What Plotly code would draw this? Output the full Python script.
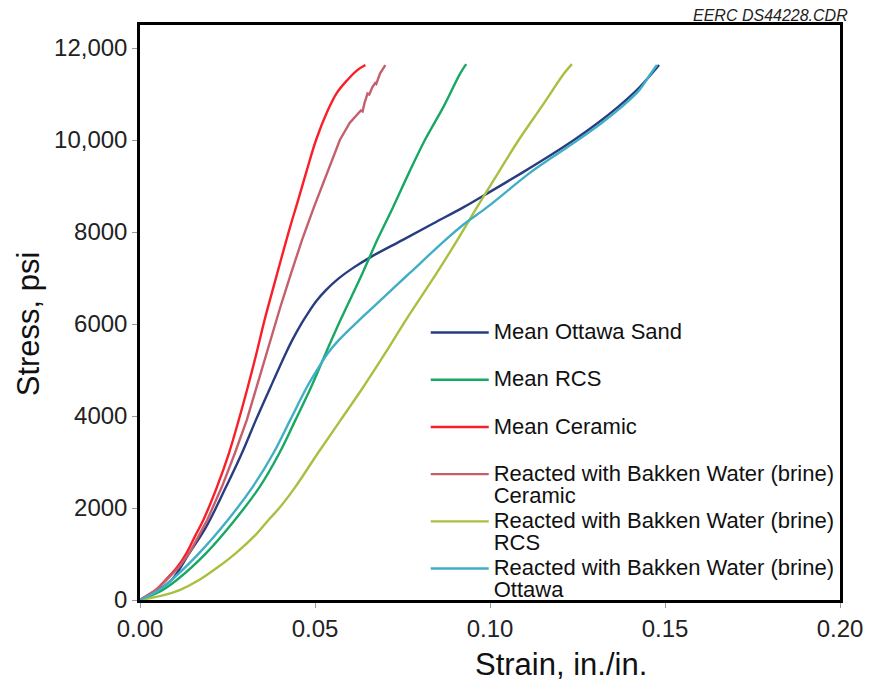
import plotly.graph_objects as go

# ---------------- data ----------------
strain_ottawa = [0, 0.0051, 0.0090, 0.0141, 0.0189, 0.0246, 0.0291, 0.0331, 0.0373, 0.0417, 0.0435,
                 0.0462, 0.0482, 0.0504, 0.0532, 0.0566, 0.0609, 0.0660, 0.0751, 0.0839, 0.0925,
                 0.0995, 0.1090, 0.1167, 0.1240, 0.1308, 0.1366, 0.1420, 0.1463, 0.1483]
stress_ottawa = [0, 217, 435, 1020, 1590, 2460, 3190, 3910, 4630, 5370, 5650,
                 6020, 6260, 6500, 6740, 6980, 7220, 7460, 7830, 8190, 8540,
                 8850, 9280, 9640, 10000, 10370, 10720, 11090, 11450, 11630]

strain_rcs = [0, 0.0056, 0.0105, 0.0189, 0.0271, 0.0342, 0.0398, 0.0444, 0.0489, 0.0531, 0.0573,
              0.0636, 0.0678, 0.0723, 0.0768, 0.0814, 0.0867, 0.0915, 0.0932]
stress_rcs = [0, 180, 435, 1020, 1740, 2460, 3190, 3910, 4630, 5370, 6090,
              7110, 7830, 8540, 9280, 10000, 10720, 11450, 11650]

strain_ceramic = [0, 0.0045, 0.0073, 0.0105, 0.0133, 0.0158, 0.0181, 0.0220, 0.0254, 0.0282, 0.0308,
                  0.0333, 0.0356, 0.0387, 0.0424, 0.0452, 0.0477, 0.0503, 0.0537, 0.0562, 0.0592,
                  0.0621, 0.0644]
stress_ceramic = [0, 217, 435, 700, 1020, 1400, 1740, 2460, 3190, 3910, 4630,
                  5370, 6090, 6960, 7980, 8700, 9350, 10000, 10650, 11020, 11300,
                  11520, 11630]

strain_brine_ceramic = [0, 0.0045, 0.0076, 0.0110, 0.0141, 0.0192, 0.0234, 0.0271, 0.0305, 0.0333,
                        0.0362, 0.0390, 0.0401, 0.0432, 0.0463, 0.0497, 0.0534, 0.0571, 0.0599,
                        0.0619, 0.0631, 0.0636, 0.0641, 0.0650, 0.0655, 0.0664, 0.0672, 0.0675,
                        0.0686, 0.0701]
stress_brine_ceramic = [0, 217, 435, 700, 1020, 1740, 2460, 3190, 3910, 4630,
                        5370, 6090, 6370, 7110, 7830, 8540, 9280, 10000, 10370,
                        10540, 10640, 10620, 10790, 11010, 10990, 11150, 11240, 11220,
                        11450, 11630]

strain_brine_rcs = [0, 0.0065, 0.0113, 0.0169, 0.0220, 0.0274, 0.0328, 0.0367, 0.0398, 0.0444,
                    0.0508, 0.0573, 0.0638, 0.0701, 0.0760, 0.0848, 0.0907, 0.0963, 0.1023,
                    0.1082, 0.1147, 0.1212, 0.1234]
stress_brine_rcs = [0, 100, 217, 435, 700, 1020, 1400, 1740, 2000, 2460,
                    3190, 3910, 4630, 5370, 6090, 7110, 7830, 8540, 9280,
                    10000, 10720, 11450, 11650]

strain_brine_ottawa = [0, 0.0051, 0.0090, 0.0169, 0.0251, 0.0322, 0.0381, 0.0429, 0.0477, 0.0506,
                       0.0537, 0.0568, 0.0627, 0.0667, 0.0734, 0.0771, 0.0873, 0.0929, 0.0992,
                       0.1113, 0.1181, 0.1251, 0.1319, 0.1376, 0.1427, 0.1460, 0.1477]
stress_brine_ottawa = [0, 200, 435, 1020, 1740, 2460, 3190, 3910, 4630, 5000,
                       5370, 5650, 6090, 6370, 6850, 7110, 7830, 8190, 8540,
                       9280, 9640, 10000, 10370, 10720, 11090, 11450, 11630]

series_names = [
    ["Mean Ottawa Sand"],
    ["Mean RCS"],
    ["Mean Ceramic"],
    ["Reacted with Bakken Water (brine)", "Ceramic"],
    ["Reacted with Bakken Water (brine)", "RCS"],
    ["Reacted with Bakken Water (brine)", "Ottawa"],
]
series_colors = ["#283c80", "#18a863", "#fa1e28", "#c4606c", "#a8c040", "#40aec6"]

x_tick_vals = [0, 0.05, 0.10, 0.15, 0.20]
x_tick_text = ["0.00", "0.05", "0.10", "0.15", "0.20"]
y_tick_vals = [0, 2000, 4000, 6000, 8000, 10000, 12000]
y_tick_text = ["0", "2000", "4000", "6000", "8000", "10,000", "12,000"]

# ---------------- layout geometry ----------------
W, H = 875, 685
ML, MR, MT, MB = 140, 27, 25, 85
PW, PH = W - ML - MR, H - MT - MB


def paper_x(px):
    return (px - ML) / PW


def paper_y(py):
    return (H - MB - py) / PH


FONT = "Liberation Sans, Arial, sans-serif"
LEGEND_TEXT_PX = 22


def legend_label(lines):
    # every entry takes two text lines (the reference spaces single-line entries the same way)
    shown = list(lines) + ["&nbsp;"] * (2 - len(lines))
    return "<br>".join(f'<span style="font-size:{LEGEND_TEXT_PX}px">{t}</span>' for t in shown)


fig = go.Figure()
xs = [strain_ottawa, strain_rcs, strain_ceramic, strain_brine_ceramic, strain_brine_rcs, strain_brine_ottawa]
ys = [stress_ottawa, stress_rcs, stress_ceramic, stress_brine_ceramic, stress_brine_rcs, stress_brine_ottawa]

for i in range(6):
    jagged = i == 3
    fig.add_trace(go.Scatter(
        x=xs[i], y=ys[i], mode="lines", name=legend_label(series_names[i]),
        line=dict(color=series_colors[i], width=2.4,
                  shape="linear" if jagged else "spline",
                  smoothing=None if jagged else 1.0),
    ))

axis_common = dict(
    showline=True, linecolor="black", linewidth=2.5, mirror=True,
    showgrid=False, zeroline=False,
    ticks="outside", ticklen=5, tickwidth=1, tickcolor="#999999",
    tickfont=dict(family=FONT, size=24, color="#222222"),
)

fig.update_xaxes(range=[0, 0.2], tickvals=x_tick_vals, ticktext=x_tick_text, **axis_common)
fig.update_yaxes(range=[0, 12500], tickvals=y_tick_vals, ticktext=y_tick_text, **axis_common)

fig.update_layout(
    width=W, height=H,
    margin=dict(l=ML, r=MR, t=MT, b=MB),
    paper_bgcolor="white", plot_bgcolor="white",
    showlegend=True,
    legend=dict(
        x=paper_x(429), y=paper_y(315), xanchor="left", yanchor="top",
        font=dict(family=FONT, size=17, color="#111111"),
        bgcolor="rgba(0,0,0,0)", borderwidth=0, valign="top",
        itemwidth=58,
    ),
    annotations=[
        dict(text="Stress, psi", textangle=-90, xref="paper", yref="paper",
             x=paper_x(27), y=paper_y(324), xanchor="center", yanchor="middle",
             showarrow=False, font=dict(family=FONT, size=31, color="#111111")),
        dict(text="Strain, in./in.", xref="paper", yref="paper",
             x=paper_x(566), y=paper_y(664), xanchor="center", yanchor="middle",
             showarrow=False, font=dict(family=FONT, size=31, color="#111111")),
        dict(text="<i>EERC DS44228.CDR</i>", xref="paper", yref="paper",
             x=paper_x(858), y=paper_y(15), xanchor="right", yanchor="middle",
             showarrow=False, font=dict(family=FONT, size=16, color="#222222")),
    ],
)

fig.write_html("out.html")
